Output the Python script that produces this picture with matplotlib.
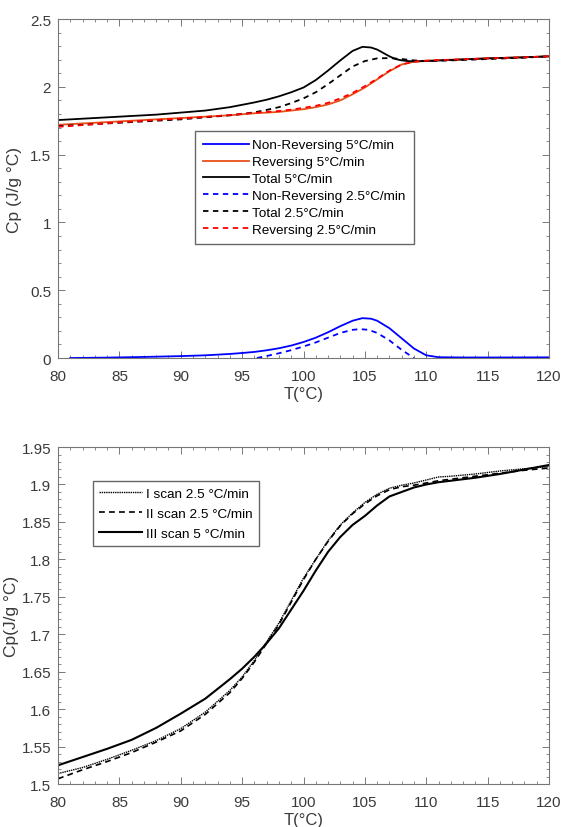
import matplotlib
matplotlib.use('Agg')
import matplotlib.pyplot as plt
from matplotlib.ticker import MultipleLocator, FuncFormatter

plt.rcParams['font.family'] = ['Liberation Sans', 'DejaVu Sans']

# ---- top panel data ----
t_total5 = [80, 82, 85, 88, 90, 92, 94, 96, 97, 98, 99, 100, 101, 102, 103, 104, 104.8, 105.5, 106, 106.5, 107, 107.5, 108, 108.5, 109, 110, 112, 115, 118, 120]
cp_total5 = [1.755, 1.765, 1.78, 1.795, 1.81, 1.825, 1.85, 1.885, 1.905, 1.93, 1.96, 1.995, 2.05, 2.12, 2.195, 2.265, 2.295, 2.29, 2.275, 2.25, 2.225, 2.205, 2.195, 2.19, 2.188, 2.19, 2.198, 2.21, 2.218, 2.225]

t_total25 = [80, 82, 85, 88, 90, 92, 94, 95, 96, 97, 98, 99, 100, 101, 102, 103, 104, 105, 106, 107, 108, 109, 110, 112, 115, 118, 120]
cp_total25 = [1.71, 1.72, 1.735, 1.75, 1.76, 1.775, 1.79, 1.8, 1.812, 1.83, 1.85, 1.88, 1.915, 1.96, 2.02, 2.085, 2.15, 2.19, 2.21, 2.212, 2.205, 2.195, 2.19, 2.195, 2.205, 2.215, 2.225]

t_rev5 = [80, 82, 85, 88, 90, 92, 94, 96, 98, 99, 100, 101, 102, 103, 104, 105, 106, 107, 108, 109, 110, 112, 115, 118, 120]
cp_rev5 = [1.72, 1.73, 1.745, 1.76, 1.77, 1.78, 1.79, 1.805, 1.815, 1.825, 1.835, 1.85, 1.87, 1.9, 1.945, 1.995, 2.055, 2.115, 2.165, 2.185, 2.193, 2.2, 2.21, 2.218, 2.225]

t_rev25 = [80, 82, 85, 88, 90, 92, 94, 96, 98, 99, 100, 101, 102, 103, 104, 105, 106, 107, 108, 109, 110, 112, 115, 118, 120]
cp_rev25 = [1.705, 1.718, 1.738, 1.755, 1.766, 1.778, 1.792, 1.808, 1.822, 1.832, 1.845, 1.86, 1.882, 1.915, 1.955, 2.005, 2.06, 2.12, 2.165, 2.185, 2.193, 2.2, 2.21, 2.218, 2.225]

t_nrev5 = [81, 84, 87, 90, 92, 94, 95, 96, 97, 98, 99, 100, 101, 102, 103, 104, 104.8, 105.5, 106, 107, 108, 109, 110, 111, 113, 116, 120]
cp_nrev5 = [0.0, 0.003, 0.008, 0.014, 0.02, 0.03, 0.037, 0.045, 0.057, 0.072, 0.092, 0.118, 0.15, 0.19, 0.235, 0.275, 0.294, 0.29, 0.275, 0.22, 0.145, 0.07, 0.02, 0.006, 0.004, 0.004, 0.005]

t_nrev25 = [96.2, 97, 98, 99, 100, 101, 102, 103, 104, 104.6, 105.3, 106, 107, 108, 109]
cp_nrev25 = [0.0, 0.015, 0.035, 0.058, 0.085, 0.115, 0.15, 0.185, 0.208, 0.213, 0.208, 0.185, 0.13, 0.06, 0.0]

# ---- bottom panel data ----
t_scan = [80, 82, 84, 86, 88, 90, 92, 94, 95, 96, 97, 98, 99, 100, 101, 102, 103, 104, 105, 106, 107, 108, 109, 110, 111, 112, 114, 116, 118, 120]
cp_scan1 = [1.514, 1.522, 1.533, 1.545, 1.558, 1.574, 1.596, 1.625, 1.643, 1.665, 1.69, 1.715, 1.745, 1.775, 1.80, 1.825, 1.846, 1.862, 1.876, 1.887, 1.895, 1.899, 1.902, 1.906, 1.91, 1.911, 1.914, 1.918, 1.921, 1.924]
cp_scan2 = [1.507, 1.519, 1.53, 1.542, 1.556, 1.571, 1.593, 1.622, 1.641, 1.663, 1.688, 1.713, 1.743, 1.773, 1.80, 1.824, 1.845, 1.861, 1.874, 1.885, 1.893, 1.897, 1.899, 1.902, 1.905, 1.907, 1.911, 1.915, 1.919, 1.922]
cp_scan3 = [1.525, 1.536, 1.547, 1.559, 1.575, 1.594, 1.614, 1.64, 1.654, 1.67, 1.688, 1.708, 1.733, 1.758, 1.785, 1.81, 1.83, 1.846, 1.858, 1.872, 1.884, 1.89, 1.896, 1.9, 1.903, 1.905, 1.909, 1.914, 1.92, 1.926]

axcol = '#3a3a3a'
fmt = FuncFormatter(lambda v, p: '%g' % round(v, 3))

fig = plt.figure(figsize=(5.61, 8.28), dpi=100)
ax1 = fig.add_axes([0.1034, 0.5664, 0.8752, 0.4094])
ax2 = fig.add_axes([0.1034, 0.0519, 0.8752, 0.4070])

lw = 1.3
dash = (0, (3, 2.5))
ax1.plot(t_nrev5, cp_nrev5, color='#0000ff', lw=lw, label='Non-Reversing 5\u00b0C/min')
ax1.plot(t_rev5, cp_rev5, color='#e8501a', lw=lw, label='Reversing 5\u00b0C/min')
ax1.plot(t_total5, cp_total5, color='black', lw=lw, label='Total 5\u00b0C/min')
ax1.plot(t_nrev25, cp_nrev25, color='#0000ff', lw=lw, ls=dash, label='Non-Reversing 2.5\u00b0C/min')
ax1.plot(t_total25, cp_total25, color='black', lw=lw, ls=dash, label='Total 2.5\u00b0C/min')
ax1.plot(t_rev25, cp_rev25, color='#ff0000', lw=lw, ls=dash, label='Reversing 2.5\u00b0C/min')

ax1.set_xlim(80, 120)
ax1.set_ylim(0, 2.5)
ax1.xaxis.set_major_locator(MultipleLocator(5))
ax1.xaxis.set_minor_locator(MultipleLocator(1))
ax1.yaxis.set_major_locator(MultipleLocator(0.5))
ax1.yaxis.set_minor_locator(MultipleLocator(0.1))
ax1.set_xlabel('T(\u00b0C)', fontsize=12, color=axcol, labelpad=2)
ax1.set_ylabel('Cp (J/g \u00b0C)', fontsize=12.5, color=axcol, labelpad=6)
ax1.legend(loc='upper left', bbox_to_anchor=(0.279, 0.670), fontsize=9.7, handlelength=3.4,
           handletextpad=0.25, labelspacing=0.33, borderpad=0.6, fancybox=False,
           edgecolor='#666666', framealpha=1, borderaxespad=0)

ax2.plot(t_scan, cp_scan1, color='black', lw=1.0, ls=(0, (1, 0.6)), label='I scan 2.5 \u00b0C/min')
ax2.plot(t_scan, cp_scan2, color='black', lw=1.2, ls=(0, (3.5, 2.5)), label='II scan 2.5 \u00b0C/min')
ax2.plot(t_scan, cp_scan3, color='black', lw=1.5, label='III scan 5 \u00b0C/min')

ax2.set_xlim(80, 120)
ax2.set_ylim(1.5, 1.95)
ax2.xaxis.set_major_locator(MultipleLocator(5))
ax2.xaxis.set_minor_locator(MultipleLocator(1))
ax2.yaxis.set_major_locator(MultipleLocator(0.05))
ax2.yaxis.set_minor_locator(MultipleLocator(0.01))
ax2.set_xlabel('T(\u00b0C)', fontsize=12, color=axcol, labelpad=2)
ax2.set_ylabel('Cp(J/g \u00b0C)', fontsize=12.5, color=axcol, labelpad=2)
ax2.legend(loc='upper left', bbox_to_anchor=(0.071, 0.898), fontsize=9.7, handlelength=3.2,
           handletextpad=0.3, labelspacing=0.55, borderpad=0.45, fancybox=False,
           edgecolor='#666666', framealpha=1, borderaxespad=0)

for ax in (ax1, ax2):
    ax.yaxis.set_major_formatter(fmt)
    ax.tick_params(which='both', direction='in', top=True, right=True, colors=axcol,
                   labelsize=11)
    ax.tick_params(axis='x', which='major', pad=8)
    ax.tick_params(axis='y', which='major', pad=5)
    ax.tick_params(which='major', length=5, width=0.7, color='#777777')
    ax.tick_params(which='minor', length=2.5, width=0.6, color='#777777')
    for sp in ax.spines.values():
        sp.set_color('#777777')
        sp.set_linewidth(0.8)

fig.savefig('out.png', dpi=100)
